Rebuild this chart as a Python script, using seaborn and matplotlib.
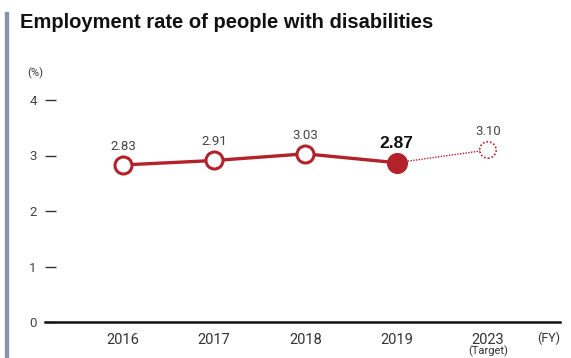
import matplotlib
matplotlib.use("Agg")
import matplotlib.pyplot as plt
import seaborn as sns
import pandas as pd
from matplotlib.patches import Rectangle

years = ["2016", "2017", "2018", "2019", "2023"]
values = [2.83, 2.91, 3.03, 2.87, 3.10]
value_labels = ["2.83", "2.91", "3.03", "2.87", "3.10"]
yticks = [0, 1, 2, 3, 4]
title = "Employment rate of people with disabilities"

RED = "#b3212b"
W, H = 571, 358

sns.set_theme(style="white")
plt.rcParams["font.family"] = ["Roboto", "DejaVu Sans"]

fig = plt.figure(figsize=(W / 100, H / 100), dpi=100)
ax = fig.add_axes([45 / W, 1 - 322 / H, (560 - 45) / W, (322 - 100) / H])

pos = list(range(len(years)))
df = pd.DataFrame({"pos": pos, "value": values, "year": years})

# solid actual line
sns.lineplot(data=df.iloc[:4], x="pos", y="value", ax=ax, color=RED, linewidth=2.4, zorder=2)
# dotted target line
sns.lineplot(data=df.iloc[3:], x="pos", y="value", ax=ax, color=RED, linewidth=1.0,
             linestyle=(0, (1, 1)), zorder=2)
# open markers (2016-2018)
sns.scatterplot(data=df.iloc[:3], x="pos", y="value", ax=ax, s=150, color="white",
                edgecolor=RED, linewidth=2.2, zorder=3)
# filled marker 2019
sns.scatterplot(data=df.iloc[3:4], x="pos", y="value", ax=ax, s=200, color=RED,
                edgecolor=RED, linewidth=1, zorder=3)
# target marker
sc = ax.scatter([pos[4]], [values[4]], s=140, facecolor="white", edgecolor=RED,
                linewidth=1.2, zorder=3)
sc.set_linestyle((0, (1, 1.2)))

for i, (p, v, lab) in enumerate(zip(pos, values, value_labels)):
    if i == 3:
        ax.text(p, v + 0.22, lab, ha="center", va="bottom", fontsize=12.5, fontweight="bold",
                color="#111111", family=["Liberation Sans", "DejaVu Sans"])
    else:
        ax.text(p, v + 0.22, lab, ha="center", va="bottom", fontsize=9.5, color="#444444")

ax.set_xlim(-0.855, 4.79)
ax.set_ylim(0, 4)
ax.set_xticks(pos)
ax.set_xticklabels(years, fontsize=10.5, color="#333333")
ax.set_yticks(yticks)
ax.set_yticklabels([str(t) for t in yticks], fontsize=9.5, color="#444444")
ax.tick_params(axis="y", direction="in", length=8, width=1, color="#333333", pad=6, left=True)
ax.tick_params(axis="x", length=0, pad=8)
ax.set_xlabel("")
ax.set_ylabel("")
for s in ["top", "right", "left"]:
    ax.spines[s].set_visible(False)
ax.spines["bottom"].set_color("#111111")
ax.spines["bottom"].set_linewidth(1.8)

ax.text(4.67, -0.3, "(FY)", ha="center", va="center", fontsize=9, color="#333333")
ax.text(4, -0.535, "(Target)", ha="center", va="center", fontsize=8, color="#333333")

fig.text(35 / W, 1 - 73 / H, "(%)", ha="center", va="center", fontsize=8, color="#333333")
fig.text(20 / W, 1 - 22 / H, title, ha="left", va="center", fontsize=14.5, fontweight="bold",
         color="#111111", family=["Liberation Sans", "DejaVu Sans"])
fig.patches.append(Rectangle((5 / W, 0), 3 / W, 1 - 12 / H, transform=fig.transFigure,
                             color="#8a93ad", zorder=0))

fig.savefig("out.png", dpi=100)
